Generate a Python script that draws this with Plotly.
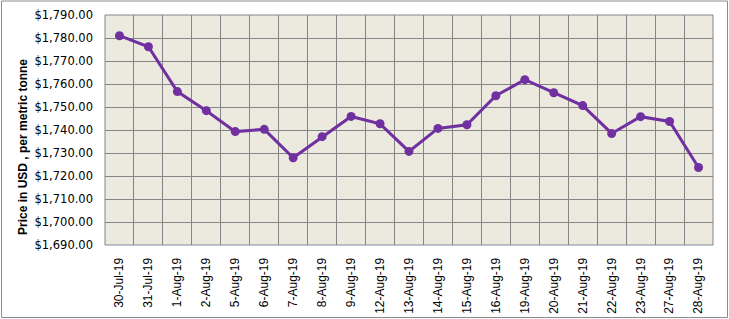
import plotly.graph_objects as go

dates = ["30-Jul-19", "31-Jul-19", "1-Aug-19", "2-Aug-19", "5-Aug-19", "6-Aug-19",
         "7-Aug-19", "8-Aug-19", "9-Aug-19", "12-Aug-19", "13-Aug-19", "14-Aug-19",
         "15-Aug-19", "16-Aug-19", "19-Aug-19", "20-Aug-19", "21-Aug-19", "22-Aug-19",
         "23-Aug-19", "27-Aug-19", "28-Aug-19"]
prices = [1781.0, 1776.2, 1756.7, 1748.4, 1739.3, 1740.3,
          1727.9, 1737.1, 1745.9, 1742.7, 1730.7, 1740.7,
          1742.3, 1754.9, 1761.9, 1756.2, 1750.6, 1738.5,
          1745.8, 1743.7, 1723.7]
y_ticks = [1690 + 10 * i for i in range(11)]

W, H = 729, 319
ml, mr, mt, mb = 105, 16, 15, 74
pw, ph = W - ml - mr, H - mt - mb

fig = go.Figure()
fig.add_trace(go.Scatter(
    x=dates, y=prices, mode="lines+markers",
    line=dict(color="#7030A0", width=3),
    marker=dict(color="#7030A0", size=9),
    hoverinfo="x+y",
))

fig.update_layout(
    width=W, height=H,
    margin=dict(l=ml, r=mr, t=mt, b=mb, autoexpand=False),
    paper_bgcolor="white",
    plot_bgcolor="#ECE9DF",
    showlegend=False,
    font=dict(family="DejaVu Sans", size=11, color="black"),
    xaxis=dict(
        type="category", tickson="boundaries", showgrid=True,
        gridcolor="#858585", gridwidth=1, automargin=False,
        tickangle=-90, ticks="", ticklabelstandoff=7,
        tickfont=dict(family="Liberation Sans", size=12, color="black"),
        range=[-0.5, len(dates) - 0.5],
        showline=True, linecolor="#B9C6D6", linewidth=1,
    ),
    yaxis=dict(
        range=[1690, 1790], tickvals=y_ticks, automargin=False,
        ticktext=["$" + f"{v:,.2f}" for v in y_ticks],
        showgrid=True, gridcolor="#858585", gridwidth=1,
        zeroline=False, ticks="", ticklen=0, ticklabelstandoff=11,
        tickfont=dict(family="DejaVu Sans", size=11.5, color="black"),
    ),
    shapes=[
        dict(type="rect", xref="paper", yref="paper", x0=0, x1=1, y0=0, y1=1,
             line=dict(color="#858585", width=1), layer="below"),
        dict(type="rect", xref="paper", yref="paper",
             x0=(1.5 - ml) / pw, x1=(727.5 - ml) / pw,
             y0=(H - mb - 317.5) / ph, y1=(H - mb - 1.0) / ph,
             line=dict(color="#8C8C8C", width=1)),
    ],
    annotations=[dict(
        text="<b>Price in USD , per metric tonne</b>",
        xref="paper", yref="paper",
        x=(23 - ml) / pw, y=(H - mb - 147) / ph,
        showarrow=False, textangle=-90,
        font=dict(family="Liberation Sans", size=12, color="black"),
        xanchor="center", yanchor="middle",
    )],
)

fig.write_html("out.html")
